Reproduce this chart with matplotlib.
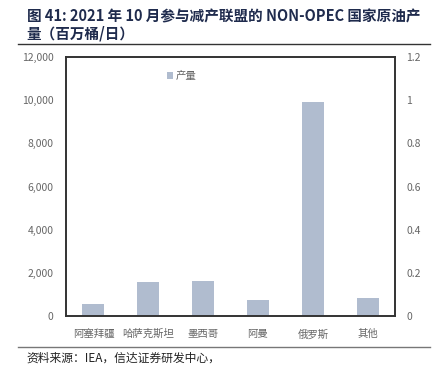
import matplotlib.pyplot as plt
from matplotlib.ticker import FuncFormatter

plt.rcParams['font.family'] = ['Noto Sans CJK SC', 'DejaVu Sans']

# dati
countries = ['阿塞拜疆', '哈萨克斯坦', '墨西哥', '阿曼', '俄罗斯', '其他']
production = [590, 1595, 1650, 775, 9930, 840]
left_ticks = [0, 2000, 4000, 6000, 8000, 10000, 12000]
right_ticks = [0, 0.2, 0.4, 0.6, 0.8, 1.0, 1.2]

bar_color = '#B0BCCF'
grey = '#666666'

fig = plt.figure(figsize=(4.4, 3.82), dpi=100)
ax = fig.add_axes([0.15, 0.1715, 0.748, 0.6795])

x = range(len(countries))
ax.bar(x, production, width=0.4, color=bar_color, label='产量')
ax.set_xlim(-0.5, len(countries) - 0.5)
ax.set_ylim(0, 12000)
ax.set_yticks(left_ticks)
ax.yaxis.set_major_formatter(FuncFormatter(lambda v, p: f'{int(v):,}'))
ax.set_xticks(list(x))
ax.set_xticklabels(countries)
ax.tick_params(axis='both', length=0, labelsize=7.5, colors=grey)
ax.tick_params(axis='y', pad=9)
ax.tick_params(axis='x', pad=9)
for s in ax.spines.values():
    s.set_color('#333333')
    s.set_linewidth(1.2)

ax2 = ax.twinx()
ax2.set_ylim(0, 1.2)
ax2.set_yticks(right_ticks)
ax2.yaxis.set_major_formatter(FuncFormatter(lambda v, p: f'{v:g}'))
ax2.tick_params(axis='y', length=0, labelsize=7.5, colors=grey, pad=8)
for s in ax2.spines.values():
    s.set_color('#333333')
    s.set_linewidth(1.2)

leg = ax.legend(loc='center left', bbox_to_anchor=(0.29, 0.927), frameon=False,
                fontsize=7.5, handlelength=0.6, handleheight=0.6,
                handletextpad=0.3, borderpad=0)
for t in leg.get_texts():
    t.set_color(grey)

# titolo e fonte
fig.text(0.061, 0.957, '图 41: 2021 年 10 月参与减产联盟的 NON-OPEC 国家原油产',
         fontsize=10.5, fontweight='bold', color='#1F2B4D', va='center')
fig.text(0.061, 0.911, '量（百万桶/日）',
         fontsize=10.5, fontweight='bold', color='#1F2B4D', va='center')
fig.add_artist(plt.Line2D([0.041, 0.977], [0.884, 0.884], color='#333333', lw=1.0))
fig.add_artist(plt.Line2D([0.041, 0.977], [0.092, 0.092], color='#777777', lw=1.0))
fig.text(0.061, 0.063, '资料来源：IEA，信达证券研发中心，', fontsize=8.5,
         style='italic', color='#222222', va='center')

fig.savefig('out.png', dpi=100)
